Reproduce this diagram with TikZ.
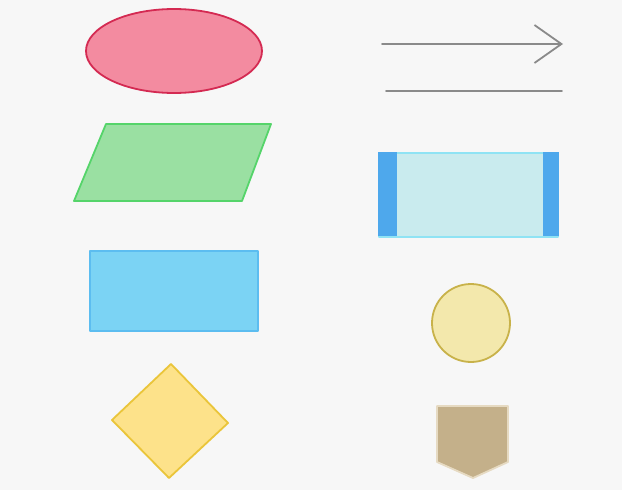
\documentclass[tikz,border=0pt]{standalone}
\usepackage{tikz}
\usetikzlibrary{arrows.meta, shapes.geometric}

\definecolor{bggray}{HTML}{F7F7F7}
\definecolor{termfill}{HTML}{F38BA0}
\definecolor{termline}{HTML}{D42A52}
\definecolor{iofill}{HTML}{9AE0A2}
\definecolor{ioline}{HTML}{55D46A}
\definecolor{procfill}{HTML}{7BD3F4}
\definecolor{procline}{HTML}{5CBDF0}
\definecolor{subfill}{HTML}{C9EBEE}
\definecolor{subbar}{HTML}{4EA8EC}
\definecolor{subline}{HTML}{8FE3F4}
\definecolor{connfill}{HTML}{F3E8AC}
\definecolor{connline}{HTML}{C8B24A}
\definecolor{decfill}{HTML}{FDE28A}
\definecolor{decline}{HTML}{EAC53A}
\definecolor{offfill}{HTML}{C4B08A}
\definecolor{offline}{HTML}{E6DAC2}
\definecolor{flowgray}{HTML}{8A8A8A}

\tikzset{
  symbol/.style={line width=1.8pt, line join=round, inner sep=0pt},
  flowline/.style={draw=flowgray, line width=1.8pt, line cap=round}
}

\begin{document}
\begin{tikzpicture}[x=1pt,y=-1pt]
  \useasboundingbox[fill=bggray] (0,0) rectangle (622,490);

  % left column
  \node[symbol, ellipse, draw=termline, fill=termfill,
        minimum width=176pt, minimum height=84pt] (term) at (174,51) {};
  \draw[symbol, draw=ioline, fill=iofill]
        (106,124) -- (271,124) -- (242,201) -- (74,201) -- cycle;
  \node[symbol, rectangle, draw=procline, fill=procfill,
        minimum width=168pt, minimum height=80pt] (proc) at (174,291) {};
  \draw[symbol, draw=decline, fill=decfill]
        (171,364) -- (228,423) -- (169,478) -- (112,420) -- cycle;

  % right column
  \coordinate (flowA) at (382,44);
  \coordinate (flowB) at (563,44);
  \coordinate (lineA) at (386,91);
  \coordinate (lineB) at (562,91);
  \draw[flowline, -{Straight Barb[length=27pt, width=38pt, line width=1.8pt]}] (flowA) -- (flowB);
  \draw[flowline] (lineA) -- (lineB);

  \node[symbol, rectangle, draw=subline, fill=subfill,
        minimum width=179pt, minimum height=84pt] (subproc) at (468.5,195) {};
  \fill[subbar] (subproc.north west) rectangle ++(19,84);
  \fill[subbar] (subproc.north east) rectangle ++(-16,84);

  \node[symbol, circle, draw=connline, fill=connfill,
        minimum size=78pt] (conn) at (471,323) {};
  \draw[symbol, draw=offline, fill=offfill]
        (437,406) -- (508,406) -- (508,462) -- (473,478) -- (437,462) -- cycle;
\end{tikzpicture}
\end{document}
